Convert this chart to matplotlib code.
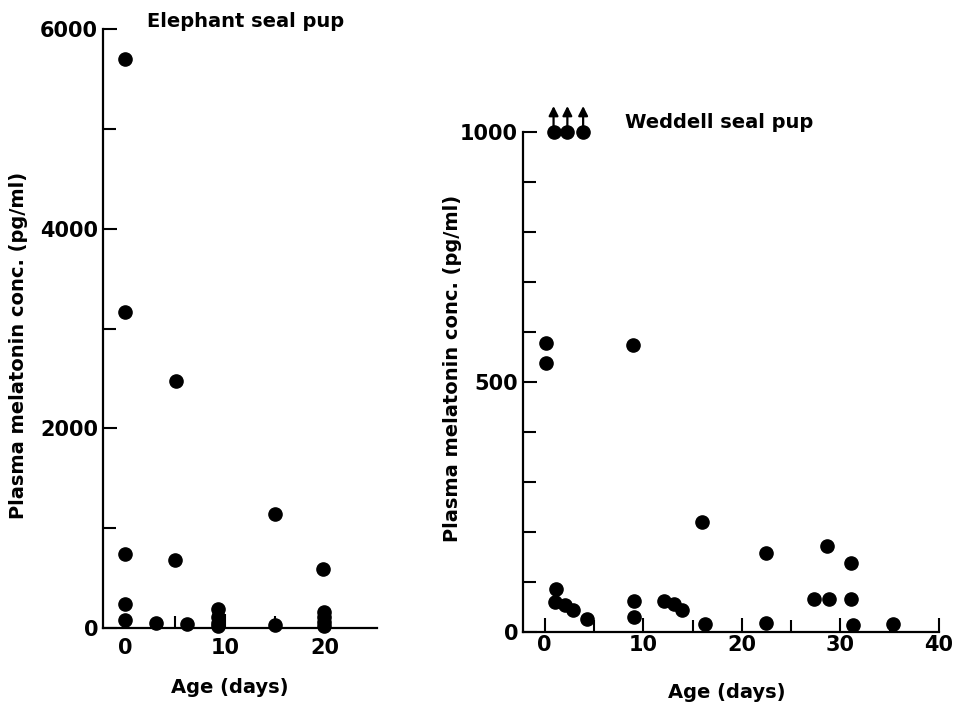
import matplotlib
matplotlib.use("Agg")
import matplotlib.pyplot as plt

# Elephant seal pup
eleph_age = [0, 0, 0, 0, 0, 3.1, 5.1, 5.0, 6.2, 9.3, 9.3, 9.3, 9.3, 15.0, 15.0, 19.8, 19.9, 19.9, 19.9, 19.9]
eleph_mel = [5700, 3170, 740, 240, 80, 50, 2470, 680, 40, 190, 110, 50, 20, 1140, 30, 590, 160, 110, 60, 20]

# Weddell seal pup
wedd_age = [0.1, 0.1, 9.0, 16.0, 22.5, 28.6, 31.1, 1.1, 1.0, 2.1, 2.9, 4.3, 9.1, 9.1,
            12.1, 13.1, 13.9, 16.3, 22.5, 27.3, 28.8, 31.1, 31.3, 35.3]
wedd_mel = [578, 538, 574, 220, 158, 172, 138, 86, 60, 54, 44, 26, 62, 30,
            62, 56, 44, 16, 18, 66, 66, 66, 14, 16]
# values above assay limit (plotted at 1000 with an up arrow)
wedd_high_age = [0.9, 2.3, 3.9]
wedd_high_mel = [1000, 1000, 1000]

plt.rcParams['font.family'] = 'DejaVu Sans'
plt.rcParams['font.weight'] = 'bold'

fig = plt.figure(figsize=(9.57, 7.02), dpi=100)
ax1 = fig.add_axes([103/957, 1-628/702, 274/957, 599/702])
ax2 = fig.add_axes([523/957, 1-632/702, 416/957, 500/702])

for ax in (ax1, ax2):
    ax.spines['top'].set_visible(False)
    ax.spines['right'].set_visible(False)
    ax.spines['left'].set_linewidth(1.6)
    ax.spines['bottom'].set_linewidth(1.6)
    ax.tick_params(which='both', direction='in', width=1.5, labelsize=15)
    ax.tick_params(which='major', length=10)
    ax.tick_params(which='minor', length=9)

# left panel
ax1.plot(eleph_age, eleph_mel, 'o', color='black', markersize=9.5, clip_on=False)
ax1.set_xlim(-2.2, 25.2)
ax1.set_ylim(0, 6000)
ax1.set_yticks([0, 2000, 4000, 6000])
ax1.set_yticks([1000, 3000, 5000], minor=True)
ax1.set_xticks([0, 10, 20])
ax1.set_xticks([5, 15], minor=True)
ax1.tick_params(axis='x', which='both', pad=7)
ax1.set_xlabel('Age (days)', fontsize=14, fontweight='bold')
ax1.set_ylabel('Plasma melatonin conc. (pg/ml)', fontsize=14, fontweight='bold')
ax1.xaxis.set_label_coords(0.4635, -0.083)
ax1.yaxis.set_label_coords(-0.274, 0.472)
ax1.text(0.16, 1.013, 'Elephant seal pup', transform=ax1.transAxes,
         fontsize=14, fontweight='bold', va='center', ha='left')

# right panel
ax2.plot(wedd_age, wedd_mel, 'o', color='black', markersize=9.5, clip_on=False)
ax2.plot(wedd_high_age, wedd_high_mel, 'o', color='black', markersize=9.5, clip_on=False)
for xa, ya in zip(wedd_high_age, wedd_high_mel):
    ax2.annotate('', xy=(xa, ya + 52), xytext=(xa, ya), annotation_clip=False,
                 arrowprops=dict(arrowstyle='-|>', color='black', lw=1.6,
                                 mutation_scale=14, shrinkA=0, shrinkB=0))
ax2.set_xlim(-2.2, 40)
ax2.set_ylim(0, 1000)
ax2.set_yticks([0, 500, 1000])
ax2.set_yticks([100, 200, 300, 400, 600, 700, 800, 900], minor=True)
ax2.set_xticks([0, 10, 20, 30, 40])
ax2.set_xticks([5, 15, 25, 35], minor=True)
ax2.tick_params(axis='x', which='both', pad=2)
ax2.set_xlabel('Age (days)', fontsize=14, fontweight='bold')
ax2.set_ylabel('Plasma melatonin conc. (pg/ml)', fontsize=14, fontweight='bold')
ax2.xaxis.set_label_coords(0.49, -0.102)
ax2.yaxis.set_label_coords(-0.147, 0.528)
ax2.text(0.245, 1.018, 'Weddell seal pup', transform=ax2.transAxes,
         fontsize=14, fontweight='bold', va='center', ha='left')

fig.savefig('out.png', dpi=100)
